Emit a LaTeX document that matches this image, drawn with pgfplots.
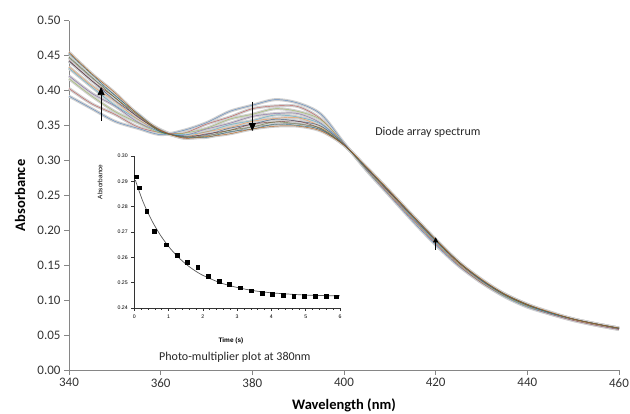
\documentclass[border=0pt]{standalone}
\usepackage{pgfplots}
\pgfplotsset{compat=1.18}
\usepackage{pgfplotstable}
\usepackage{fontspec}
\setmainfont{Carlito}
\newfontfamily\arialfont{Liberation Sans}
\usetikzlibrary{arrows.meta}

\definecolor{axisgray}{RGB}{134,134,134}
\definecolor{col0}{HTML}{4F81BD}
\definecolor{col1}{HTML}{C0504D}
\definecolor{col2}{HTML}{9BBB59}
\definecolor{col3}{HTML}{8064A2}
\definecolor{col4}{HTML}{4BACC6}
\definecolor{col5}{HTML}{F79646}
\definecolor{col6}{HTML}{2C4D75}
\definecolor{col7}{HTML}{772C2A}
\definecolor{col8}{HTML}{5F7530}
\definecolor{col9}{HTML}{7F7F7F}
\definecolor{col10}{HTML}{276A7C}
\definecolor{col11}{HTML}{B65708}

\pgfplotstableread{
wl c0 c1 c2 c3 c4 c5 c6 c7 c8 c9 c10 c11
340 0.392 0.403 0.417 0.421 0.432 0.434 0.442 0.443 0.448 0.447 0.453 0.455
345 0.374 0.381 0.392 0.396 0.405 0.407 0.414 0.414 0.419 0.418 0.423 0.424
350 0.356 0.366 0.370 0.378 0.379 0.385 0.386 0.390 0.390 0.394 0.393 0.397
355 0.346 0.348 0.354 0.355 0.359 0.359 0.363 0.362 0.365 0.364 0.367 0.366
360 0.337 0.340 0.339 0.341 0.340 0.342 0.341 0.343 0.341 0.344 0.342 0.343
365 0.343 0.339 0.339 0.336 0.337 0.334 0.335 0.333 0.334 0.332 0.334 0.332
370 0.354 0.352 0.346 0.345 0.341 0.341 0.337 0.338 0.335 0.336 0.333 0.334
375 0.370 0.362 0.359 0.353 0.351 0.347 0.346 0.343 0.343 0.340 0.341 0.338
380 0.379 0.374 0.366 0.363 0.357 0.356 0.352 0.352 0.348 0.348 0.345 0.345
385 0.387 0.378 0.374 0.367 0.365 0.360 0.359 0.355 0.355 0.351 0.352 0.349
390 0.382 0.377 0.370 0.367 0.362 0.361 0.356 0.356 0.352 0.353 0.350 0.349
395 0.366 0.359 0.358 0.353 0.352 0.348 0.349 0.345 0.346 0.343 0.344 0.342
400 0.325 0.324 0.324 0.324 0.323 0.323 0.323 0.322 0.322 0.322 0.322 0.322
405 0.285 0.286 0.286 0.287 0.288 0.288 0.288 0.289 0.289 0.289 0.289 0.290
410 0.249 0.250 0.251 0.252 0.253 0.253 0.254 0.254 0.255 0.255 0.255 0.256
415 0.213 0.215 0.216 0.217 0.218 0.219 0.219 0.220 0.220 0.220 0.221 0.221
420 0.179 0.181 0.182 0.183 0.184 0.185 0.185 0.186 0.186 0.186 0.187 0.187
425 0.149 0.150 0.151 0.152 0.153 0.153 0.154 0.154 0.154 0.155 0.155 0.155
430 0.125 0.125 0.126 0.127 0.128 0.128 0.128 0.129 0.129 0.129 0.129 0.130
435 0.105 0.106 0.106 0.107 0.107 0.108 0.108 0.108 0.108 0.109 0.109 0.109
440 0.090 0.091 0.091 0.092 0.092 0.093 0.093 0.093 0.093 0.094 0.094 0.094
445 0.080 0.080 0.081 0.081 0.081 0.082 0.082 0.082 0.082 0.082 0.082 0.083
450 0.071 0.071 0.072 0.072 0.072 0.072 0.073 0.073 0.073 0.073 0.073 0.073
455 0.064 0.064 0.065 0.065 0.065 0.065 0.066 0.066 0.066 0.066 0.066 0.066
460 0.058 0.058 0.059 0.059 0.059 0.059 0.059 0.060 0.060 0.060 0.060 0.060
}\spectra

\pgfplotstableread{
t A
0.05 0.2918
0.15 0.2875
0.36 0.2782
0.58 0.2703
0.92 0.2650
1.24 0.2610
1.54 0.2580
1.85 0.2560
2.16 0.2525
2.47 0.2505
2.77 0.2493
3.10 0.2480
3.40 0.2468
3.72 0.2460
4.03 0.2455
4.34 0.2450
4.65 0.2448
4.96 0.2446
5.27 0.2446
5.59 0.2446
5.90 0.2445
}\kinpts

\pgfplotstableread{
t A
0.03 0.2905
0.25 0.2821
0.50 0.2748
0.75 0.2690
1.00 0.2643
1.25 0.2605
1.50 0.2574
1.75 0.2549
2.00 0.2529
2.50 0.2500
3.00 0.2481
3.50 0.2468
4.00 0.2460
4.50 0.2455
5.00 0.2451
5.50 0.2449
6.00 0.2448
}\kinfit

\begin{document}
\begin{tikzpicture}
\useasboundingbox (0,0) rectangle (630pt,413pt);
\begin{axis}[
  at={(69pt,43pt)}, anchor=south west,
  scale only axis, width=550pt, height=349.3pt,
  xmin=340, xmax=460, ymin=0, ymax=0.5,
  axis x line*=bottom, axis y line*=left,
  xtick={340,360,380,400,420,440,460},
  ytick={0,0.05,0.10,0.15,0.20,0.25,0.30,0.35,0.40,0.45,0.50},
  tick align=outside, major tick length=5pt,
  tick style={color=axisgray, line width=0.8pt},
  axis line style={color=axisgray, line width=0.8pt},
  /pgf/number format/assume math mode=true,
  ticklabel style={font=\fontsize{13}{15}\selectfont, text=black!80},
  yticklabel style={/pgf/number format/.cd, fixed, fixed zerofill, precision=2, /pgf/number format/assume math mode=true},
  xticklabel style={/pgf/number format/.cd, set thousands separator={}, assume math mode=true},
  xlabel={Wavelength (nm)}, ylabel={Absorbance},
  label style={font=\bfseries\fontsize{14.5}{16}\selectfont},
  xlabel style={at={(axis description cs:0.5,-0.10)}, anchor=center},
  ylabel style={at={(axis description cs:-0.089,0.5)}, anchor=center},
  clip=false,
]
\pgfplotsinvokeforeach{0,...,11}{
  \addplot[smooth, no marks, line width=3pt, color=gray!38] table[x=wl, y=c#1]{\spectra};
}
\pgfplotsinvokeforeach{0,...,11}{
  \addplot[smooth, no marks, line width=0.45pt, color=col#1, opacity=0.85] table[x=wl, y=c#1]{\spectra};
}
\draw[-{Triangle[length=8pt,width=7pt]}, line width=0.7pt] (axis cs:347,0.357) -- (axis cs:347,0.405);
\draw[-{Triangle[length=8pt,width=7pt]}, line width=0.7pt] (axis cs:380,0.384) -- (axis cs:380,0.342);
\draw[-{Triangle[length=5pt,width=5pt]}, line width=0.7pt] (axis cs:420,0.172) -- (axis cs:420,0.190);
\node[font=\fontsize{12}{14}\selectfont, text=black!85] at (axis cs:418.3,0.34) {Diode array spectrum};
\node[font=\fontsize{12}{14}\selectfont, text=black!85] at (axis cs:376.2,0.0176) {Photo-multiplier plot at 380nm};
\end{axis}

\begin{axis}[
  at={(134.3pt,105pt)}, anchor=south west,
  scale only axis, width=205.7pt, height=152pt,
  xmin=0, xmax=6, ymin=0.24, ymax=0.30,
  axis x line*=bottom, axis y line*=left,
  xtick={0,1,2,3,4,5,6},
  ytick={0.24,0.25,0.26,0.27,0.28,0.29,0.30},
  minor x tick num=4,
  tick align=outside, major tick length=3pt, minor tick length=1.6pt,
  tick style={color=black!80, line width=0.5pt},
  axis line style={color=black!80, line width=0.6pt},
  /pgf/number format/assume math mode=true,
  ticklabel style={font=\arialfont\fontsize{5.2}{6}\selectfont},
  yticklabel style={/pgf/number format/.cd, fixed, fixed zerofill, precision=2, assume math mode=true},
  xlabel={Time (s)}, ylabel={Absorbance},
  label style={font=\arialfont\fontsize{6.5}{7}\selectfont},
  xlabel style={at={(axis description cs:0.47,-0.217)}, anchor=center, font=\arialfont\bfseries\fontsize{6.5}{7}\selectfont},
  ylabel style={at={(axis description cs:-0.167,0.83)}, anchor=center},
]
\addplot[smooth, no marks, line width=0.7pt, color=black!65] table[x=t, y=A]{\kinfit};
\addplot[only marks, mark=square*, mark size=1.9pt, color=black] table[x=t, y=A]{\kinpts};
\end{axis}
\end{tikzpicture}
\end{document}
